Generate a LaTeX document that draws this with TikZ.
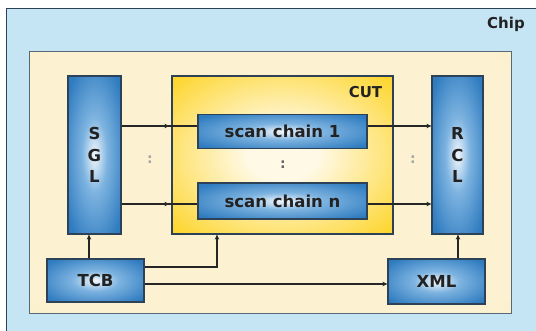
\documentclass[tikz,border=0pt]{standalone}
\usepackage{fontspec}
\setmainfont{DejaVu Sans}
\usetikzlibrary{arrows.meta}
\definecolor{chipblue}{HTML}{C6E5F4}
\definecolor{creamout}{HTML}{F9E8B4}
\definecolor{creamin}{HTML}{FCF2D2}
\definecolor{cutyellow}{HTML}{FDD630}
\definecolor{cutin}{HTML}{FFF9E6}
\definecolor{boxblue}{HTML}{2E7BBF}
\definecolor{boxmid}{HTML}{7DB3E0}
\definecolor{boxin}{HTML}{F2F7FC}
\definecolor{edgedark}{HTML}{2D4256}
\definecolor{txt}{HTML}{222222}
\pgfdeclareradialshading{blueglow}{\pgfpoint{0bp}{0bp}}{color(0bp)=(boxin); color(12bp)=(boxmid); color(32bp)=(boxblue); color(70bp)=(boxblue)}
\pgfdeclareradialshading{yellowglow}{\pgfpoint{0bp}{0bp}}{color(0bp)=(cutin); color(8bp)=(cutin); color(34bp)=(cutyellow); color(70bp)=(cutyellow)}
\pgfdeclareradialshading{creamglow}{\pgfpoint{0bp}{0bp}}{color(0bp)=(creamin); color(30bp)=(creamin); color(70bp)=(creamout)}
\tikzset{
  bluebox/.style={draw=edgedark, line width=1.2pt, shading=blueglow, inner sep=0pt,
    font=\fontsize{16.5}{21.5}\selectfont\bfseries, text=txt, align=center},
  cutbox/.style={draw=edgedark, line width=1.2pt, shading=yellowglow, inner sep=0pt},
  creambox/.style={draw=edgedark!80, line width=0.9pt, shading=creamglow, inner sep=0pt},
  chipbox/.style={draw=edgedark, line width=1.4pt, fill=chipblue, inner sep=0pt},
  lbl/.style={font=\fontsize{15}{17}\selectfont\bfseries, text=txt, inner sep=0pt},
  dotlbl/.style={font=\fontsize{14}{16}\selectfont\bfseries, inner sep=0pt},
  conn/.style={draw=black!85, line width=1.3pt},
  arr/.style={conn, -{Stealth[length=5pt,width=4.5pt]}}
}
\begin{document}
\begin{tikzpicture}[x=1pt,y=-1pt]
\useasboundingbox (0,0) rectangle (536,331);
\fill[white] (0,0) rectangle (536,331);
% chip
\node[chipbox, minimum width=540pt, minimum height=330pt, anchor=north west] (chip) at (6,8) {};
\node[lbl] (chiplbl) at (506,24) {Chip};
% inner cream
\node[creambox, minimum width=482pt, minimum height=262pt, anchor=north west] (inner) at (29,51) {};
% CUT
\node[cutbox, minimum width=221pt, minimum height=158pt] (cut) at (282.5,155) {};
\node[lbl] (cutlbl) at (365.5,92) {CUT};
% blue boxes
\node[bluebox, minimum width=53pt, minimum height=158pt] (sgl) at (94.5,155) {S\\G\\L};
\node[bluebox, minimum width=51pt, minimum height=158pt] (rcl) at (457.5,155) {R\\C\\L};
\node[bluebox, minimum width=169pt, minimum height=34pt] (sc1) at (282.5,131.5) {scan chain 1};
\node[bluebox, minimum width=169pt, minimum height=36pt] (scn) at (282.5,201) {scan chain n};
\node[bluebox, minimum width=97pt, minimum height=43pt] (tcb) at (95.5,280.5) {TCB};
\node[bluebox, minimum width=97pt, minimum height=45pt] (xml) at (436.5,281.5) {XML};
% dots
\node[dotlbl, text=black!35] (d1) at (150,160) {:};
\node[dotlbl, text=black!60] (d2) at (283,165) {:};
\node[dotlbl, text=black!35] (d3) at (413,160) {:};
% coordinates for connector rows
\coordinate (r1) at (0,126);
\coordinate (rn) at (0,204);
\coordinate (c1) at (89,0);
\coordinate (c2) at (217,0);
\coordinate (c3) at (458,0);
\coordinate (t1) at (0,267);
\coordinate (t2) at (0,284);
% SGL -> scan chains
\draw[arr] (sgl.east |- r1) -- ([xshift=-2pt]cut.west |- r1);
\draw[conn] ([xshift=-3pt]cut.west |- r1) -- (sc1.west |- r1);
\draw[arr] (sgl.east |- rn) -- ([xshift=-2pt]cut.west |- rn);
\draw[conn] ([xshift=-3pt]cut.west |- rn) -- (scn.west |- rn);
% scan chains -> RCL
\draw[arr] (sc1.east |- r1) -- (rcl.west |- r1);
\draw[arr] (scn.east |- rn) -- (rcl.west |- rn);
% TCB connections
\draw[arr] (tcb.north -| c1) -- (sgl.south -| c1);
\draw[arr] (tcb.east |- t1) -- (c2 |- t1) -- (cut.south -| c2);
\draw[arr] (tcb.east |- t2) -- (xml.west |- t2);
% XML -> RCL
\draw[arr] (xml.north -| c3) -- (rcl.south -| c3);
\end{tikzpicture}
\end{document}
